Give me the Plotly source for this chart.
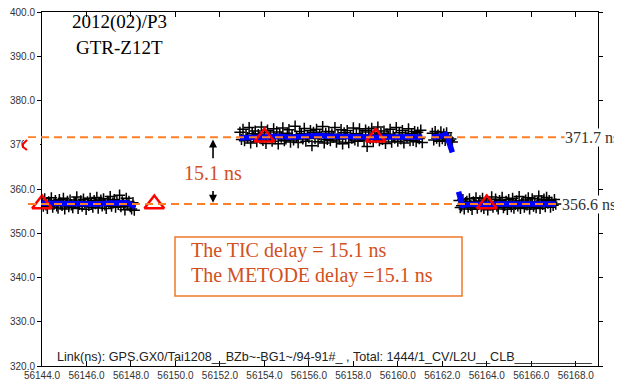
import numpy as np
import plotly.graph_objects as go

# ---------------- data ----------------
x_ticks = [56144.0, 56146.0, 56148.0, 56150.0, 56152.0, 56154.0, 56156.0,
           56158.0, 56160.0, 56162.0, 56164.0, 56166.0, 56168.0]
y_ticks = [320.0, 330.0, 340.0, 350.0, 360.0, 370.0, 380.0, 390.0, 400.0]

seg_spans = [(56144.0, 56148.15), (56152.9, 56161.1), (56161.55, 56162.45), (56162.75, 56167.1)]

seg1_vals = [357.3, 356.1, 357.8, 356.4, 355.6, 357.1, 356.9, 358.0, 355.9, 356.6,
             357.4, 356.2, 355.7, 357.6, 356.8, 356.3, 357.9, 355.5, 356.7, 357.2,
             356.0, 357.5, 356.4, 355.8, 357.0, 356.9, 358.2, 355.6, 356.5, 357.3,
             356.1, 357.7, 356.8, 355.4, 357.1, 356.3, 357.9, 356.6, 355.9, 357.4,
             356.7, 358.1, 355.7, 356.9, 357.5, 356.2, 357.8, 356.4, 355.6, 357.2,
             357.0, 358.3, 356.1, 356.8, 357.6, 355.9, 357.3, 356.5, 358.6, 356.0,
             357.1, 356.7, 355.3, 357.9, 356.4, 357.2, 356.0, 355.5, 356.9, 355.2]

seg2_vals = [372.8, 371.2, 373.5, 370.9, 372.1, 371.6, 373.9, 370.4, 372.5, 371.8,
             373.1, 370.7, 372.3, 371.5, 374.0, 371.0, 372.7, 370.3, 373.3, 371.9,
             372.0, 370.8, 373.6, 371.4, 372.9, 370.2, 372.4, 371.7, 373.8, 370.9,
             371.3, 372.6, 373.4, 370.6, 372.2, 371.1, 374.2, 371.9, 370.5, 373.0,
             372.5, 371.3, 373.7, 370.8, 372.0, 371.6, 373.2, 369.8, 372.8, 371.4,
             373.5, 370.7, 372.3, 371.9, 374.1, 370.4, 372.6, 371.2, 373.0, 370.9,
             372.4, 371.7, 373.9, 370.6, 372.1, 371.3, 373.4, 370.2, 372.7, 371.8,
             373.2, 370.5, 372.0, 371.5, 373.8, 371.1, 372.5, 370.8, 373.6, 371.9,
             372.2, 371.0, 373.3, 369.6, 372.9, 371.4, 373.7, 370.7, 372.3, 371.6,
             374.0, 370.9, 372.6, 371.2, 373.1, 370.3, 372.4, 371.8, 373.5, 370.6,
             372.0, 371.5, 373.9, 370.8, 372.7, 371.3, 373.2, 370.4, 372.1, 371.7,
             373.6, 370.9, 372.5, 371.0, 373.0, 370.7, 372.8, 371.4, 373.3, 370.5]

seg3_vals = [372.6, 371.1, 373.0, 371.5, 372.2, 370.8, 372.9, 371.4, 372.4, 371.0,
             372.7, 371.6, 370.9, 371.3, 370.6]

seg4_vals = [357.4, 355.8, 356.2, 357.6, 355.5, 356.9, 357.2, 355.9, 357.8, 356.3,
             355.4, 357.1, 356.7, 358.0, 355.7, 356.5, 357.3, 356.0, 357.9, 355.6,
             356.8, 357.5, 355.3, 357.0, 356.4, 358.2, 355.9, 356.6, 357.7, 356.1,
             355.5, 357.4, 356.9, 358.1, 355.8, 356.3, 357.2, 355.4, 357.6, 356.7,
             356.0, 357.9, 355.7, 356.5, 357.3, 356.2, 358.3, 355.6, 356.8, 357.0,
             355.9, 357.5, 356.4, 358.0, 355.5, 356.6, 357.8, 356.1, 357.1, 355.8,
             356.9, 358.4, 355.6, 357.3, 356.5, 357.7, 356.0, 358.1, 356.8, 357.4,
             355.9, 357.0, 356.3, 357.6, 356.6]

blue1_x = [56144.0, 56144.5, 56145.0, 56145.5, 56146.0, 56146.5, 56147.0, 56147.4, 56147.8, 56148.0, 56148.2]
blue1_y = [356.8, 356.7, 356.6, 356.5, 356.5, 356.6, 356.8, 357.0, 356.9, 356.5, 356.0]
blue2_x = [56152.9, 56153.4, 56154.0, 56154.6, 56155.2, 56155.8, 56156.4, 56157.0,
           56157.6, 56158.2, 56158.8, 56159.4, 56160.0, 56160.6, 56161.1]
blue2_y = [371.5, 371.7, 371.8, 371.9, 371.7, 371.9, 372.1, 371.9,
           372.0, 371.8, 371.7, 371.8, 371.7, 371.8, 371.7]
blue3_x = [56161.55, 56161.8, 56162.0, 56162.15, 56162.25, 56162.35, 56162.45]
blue3_y = [371.7, 371.8, 372.0, 372.3, 371.4, 369.8, 368.3]
blue4_x = [56162.73, 56162.8, 56162.9, 56163.1, 56163.6, 56164.2, 56164.8, 56165.4,
           56166.0, 56166.5, 56166.9, 56167.1]
blue4_y = [359.4, 357.4, 356.3, 356.5, 356.6, 356.6, 356.6, 356.6, 356.7, 356.8, 356.8, 356.6]

tri_x = [56144.0, 56149.05, 56154.0, 56159.0, 56164.0]
tri_y = [356.6, 356.6, 371.7, 371.7, 356.6]

levels = [371.7, 356.6]
level_labels = ["371.7 ns", "356.6 ns"]
delay_text = "15.1 ns"
title_lines = ["2012(02)/P3", "GTR-Z12T"]
box_lines = ["The TIC delay = 15.1 ns", "The METODE delay =15.1 ns"]
footer = "Link(ns): GPS.GX0/Tai1208__BZb~-BG1~/94-91#_ , Total: 1444/1_CV/L2U__CLB___________"

# ---------------- geometry (screen pixels; page body has an 8px margin) ----------------
OFF = 8
W, H = 622 - OFF, 381 - OFF
SX0, SX1 = 42, 598      # screen x of plot area left/right
SY0, SY1 = 12, 366      # screen y of plot area top/bottom
ML, MT = SX0 - OFF, SY0 - OFF
PW, PH = SX1 - SX0, SY1 - SY0
MR, MB = W - ML - PW, H - MT - PH
XR = [56144.0, 56169.0]
YR = [320.0, 400.0]


def px(xs):
    return (xs - SX0) / PW


def py(ys):
    return (SY1 - ys) / PH


def yd(v):
    return (v - YR[0]) / (YR[1] - YR[0])


ORANGE = "#FF7F27"
RED_TXT = "#D2501E"

fig = go.Figure()

# black crosses
cx, cy = [], []
for (a, b), vals in zip(seg_spans, [seg1_vals, seg2_vals, seg3_vals, seg4_vals]):
    cx += list(np.linspace(a, b, len(vals)))
    cy += vals
fig.add_trace(go.Scatter(
    x=cx, y=cy, mode="markers",
    marker=dict(symbol="cross-thin", size=8, line=dict(width=1.5, color="black"), color="black"),
    hoverinfo="skip", showlegend=False))

# blue smoothed line
bx = blue1_x + [None] + blue2_x + [None] + blue3_x + [None] + blue4_x
by = blue1_y + [None] + blue2_y + [None] + blue3_y + [None] + blue4_y
fig.add_trace(go.Scatter(
    x=bx, y=by, mode="lines", line=dict(color="#0000FF", width=5.5),
    connectgaps=False, hoverinfo="skip", showlegend=False))

# red triangles
fig.add_trace(go.Scatter(
    x=tri_x, y=tri_y, mode="markers", cliponaxis=False,
    marker=dict(symbol="triangle-up-open", size=17, color="#FF0000", line=dict(width=2.5, color="#FF0000")),
    hoverinfo="skip", showlegend=False))

shapes = []
annotations = []

# dashed level lines
for lv in levels:
    shapes.append(dict(type="line", xref="paper", yref="paper",
                       x0=px(28), x1=px(622), y0=yd(lv), y1=yd(lv),
                       line=dict(color=ORANGE, width=2, dash="8px,5px"), layer="above"))

# right level labels
for lv, lab, xc in zip(levels, level_labels, [592, 589]):
    annotations.append(dict(x=px(xc), y=lv, xref="paper", yref="y", text=lab, showarrow=False,
                            xanchor="center", yanchor="middle", bgcolor="white", borderpad=0,
                            font=dict(family="Liberation Serif", size=16, color="#333333")))

# cover part of the 370.0 tick label and the red clipped mark
shapes.append(dict(type="rect", xref="paper", yref="paper", x0=px(24), x1=px(40),
                   y0=py(152), y1=py(138), fillcolor="white", line=dict(width=0), layer="above"))
shapes.append(dict(type="path", xref="paper", yref="paper",
                   path=f"M {px(27)} {py(140)} L {px(23)} {py(144)} L {px(23)} {py(147)} L {px(27)} {py(150)}",
                   line=dict(color="#FF0000", width=2), layer="above"))

# arrows for the delay
ax_x = 56151.69
annotations.append(dict(x=ax_x, y=371.2, ax=ax_x, ay=366.6, xref="x", yref="y", axref="x", ayref="y",
                        text="", showarrow=True, arrowhead=2, arrowsize=1, arrowwidth=1.6, arrowcolor="black"))
annotations.append(dict(x=ax_x, y=356.9, ax=ax_x, ay=359.9, xref="x", yref="y", axref="x", ayref="y",
                        text="", showarrow=True, arrowhead=2, arrowsize=1, arrowwidth=1.6, arrowcolor="black"))
annotations.append(dict(x=ax_x, y=363.6, xref="x", yref="y", text=delay_text, showarrow=False,
                        font=dict(family="Liberation Serif", size=20, color=RED_TXT)))

# title
for t, ypix in zip(title_lines, [22, 47]):
    annotations.append(dict(x=px(119), y=py(ypix), xref="paper", yref="paper", text=t, showarrow=False,
                            xanchor="center", yanchor="middle",
                            font=dict(family="Liberation Serif", size=19, color="black")))

# text box
shapes.append(dict(type="rect", xref="paper", yref="paper", x0=px(175), x1=px(462), y0=py(296), y1=py(237),
                   line=dict(color="#F07828", width=1.5), fillcolor="rgba(0,0,0,0)", layer="above"))
for t, ypix in zip(box_lines, [250, 275]):
    annotations.append(dict(x=px(189), y=py(ypix), xref="paper", yref="paper", text=t, showarrow=False,
                            xanchor="left", yanchor="middle",
                            font=dict(family="Liberation Serif", size=20, color=RED_TXT)))

# footer
annotations.append(dict(x=px(55), y=py(357), xref="paper", yref="paper", text=footer, showarrow=False,
                        xanchor="left", yanchor="middle",
                        font=dict(family="Liberation Sans", size=12.6, color="#222222")))

fig.update_layout(
    width=W, height=H, margin=dict(l=ML, r=MR, t=MT, b=MB, autoexpand=False),
    paper_bgcolor="white", plot_bgcolor="white",
    shapes=shapes, annotations=annotations, showlegend=False,
    xaxis=dict(range=XR, tickvals=x_ticks, ticktext=[f"{v:.1f}" for v in x_ticks], automargin=False,
               ticks="inside", ticklen=5, tickcolor="black", showline=True, linecolor="black",
               linewidth=1, mirror="ticks", showgrid=False, zeroline=False, ticklabeloverflow="allow",
               tickfont=dict(family="Liberation Sans", size=10, color="#333333")),
    yaxis=dict(range=YR, tickvals=y_ticks, ticktext=[f"{v:.1f}" for v in y_ticks], automargin=False,
               ticks="outside", ticklen=4, tickcolor="black", showline=True, linecolor="black",
               linewidth=1, mirror="ticks", showgrid=False, zeroline=False, ticklabeloverflow="allow",
               tickfont=dict(family="Liberation Sans", size=10, color="#333333")),
)

fig.write_html("out.html")
